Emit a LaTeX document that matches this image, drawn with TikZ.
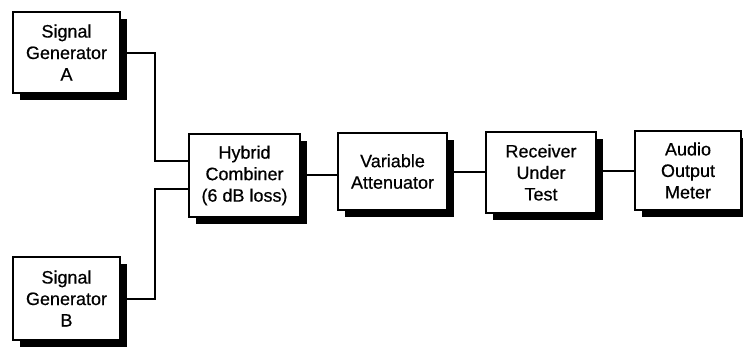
\documentclass[tikz,border=0pt]{standalone}
\usepackage{fontspec}
\newfontfamily\blkfont{Liberation Sans}[FakeBold=0.5]
\usetikzlibrary{shadows}
\begin{document}
\begin{tikzpicture}[x=1pt,y=-1pt,
  blk/.style={draw=black, line width=1.6pt, fill=white, align=center, inner sep=0pt,
    font=\blkfont\fontsize{18}{21.5}\selectfont,
    drop shadow={shadow xshift=7pt, shadow yshift=-7pt, fill=black, opacity=1}},
  wire/.style={line width=1.5pt}]
\useasboundingbox (0,0) rectangle (743,349);
\clip (0,0) rectangle (743,349);
\fill[white] (0,0) rectangle (743,349);
\node[blk, minimum width=107pt, minimum height=81pt] (ga) at (66.5,52.5) {Signal\\Generator\\A};
\node[blk, minimum width=107pt, minimum height=83pt] (gb) at (66.5,298.5) {Signal\\Generator\\B};
\node[blk, minimum width=111pt, minimum height=83pt] (hc) at (244.5,175.5) {Hybrid\\Combiner\\(6 dB loss)};
\node[blk, minimum width=109pt, minimum height=77pt] (va) at (392.5,171.5) {Variable\\Attenuator};
\node[blk, minimum width=110pt, minimum height=81pt] (rx) at (541,172.5) {Receiver\\Under\\Test};
\node[blk, minimum width=106pt, minimum height=79pt] (am) at (688,170.5) {Audio\\Output\\Meter};
\coordinate (ja) at (155,53);
\coordinate (jb) at (155,299);
\draw[wire] (ga.east |- ja) -- (ja) -- (155,161) -- (hc.west |- 0,161);
\draw[wire] (gb.east |- jb) -- (jb) -- (155,189) -- (hc.west |- 0,189);
\draw[wire] (hc.east |- 0,175) -- (va.west |- 0,175);
\draw[wire] (va.east |- 0,172) -- (rx.west |- 0,172);
\draw[wire] (rx.east |- 0,171) -- (am.west |- 0,171);
\end{tikzpicture}
\end{document}
